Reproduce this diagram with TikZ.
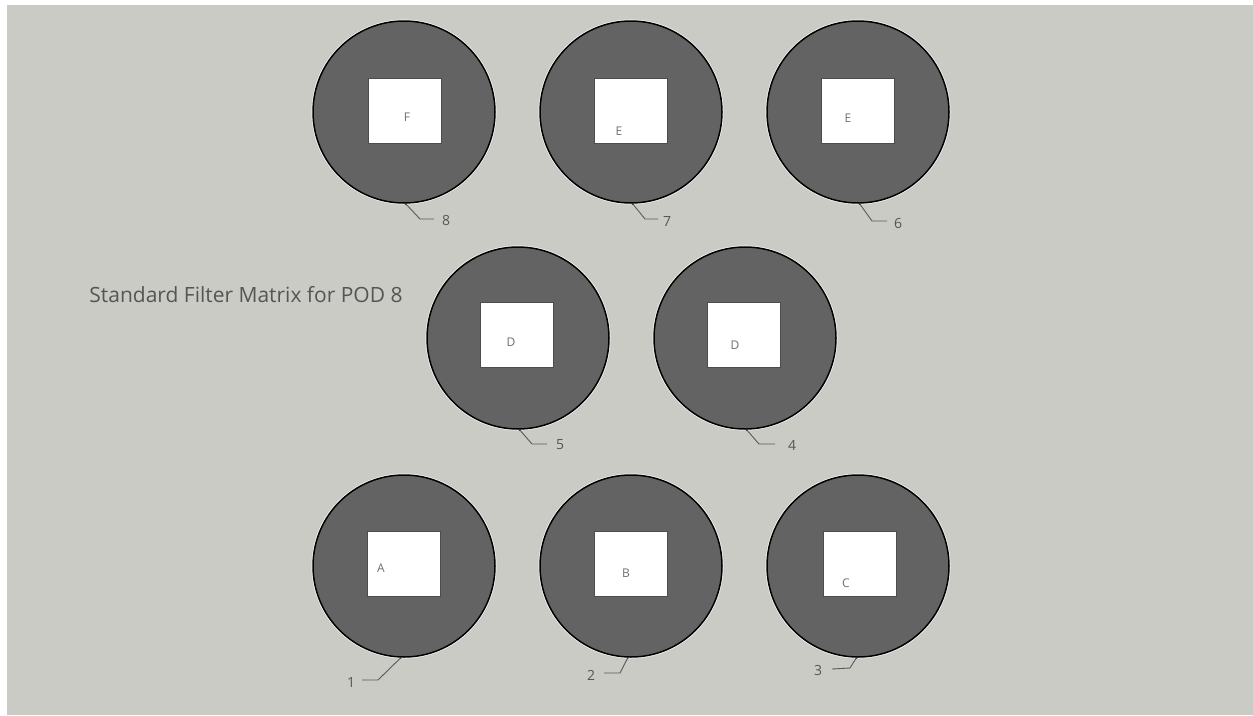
\documentclass[tikz,border=0pt]{standalone}
\usepackage{fontspec}
\setmainfont{Open Sans}
\definecolor{bg}{HTML}{CBCBC6}
\definecolor{disc}{HTML}{636363}
\definecolor{txt}{HTML}{555555}
\definecolor{ltr}{HTML}{707070}
\begin{document}
\begin{tikzpicture}[x=1pt,y=-1pt,
  filt/.style={circle,minimum size=182pt,inner sep=0pt,fill=disc,draw=black,line width=1.5pt,
    preaction={draw=white!85!bg,line width=3pt}},
  slot/.style={rectangle,minimum width=73pt,minimum height=65pt,inner sep=0pt,fill=white,draw=black!70,line width=0.8pt},
  ltrlbl/.style={inner sep=0pt,text=ltr,font=\fontsize{12}{12}\selectfont},
  numlbl/.style={inner sep=0pt,text=txt,font=\fontsize{14}{14}\selectfont},
  leader/.style={draw=black!65,line width=0.9pt}]
\useasboundingbox (0,0) rectangle (1253,715);
\fill[white] (0,0) rectangle (1253,715);
\fill[bg] (7,5) rectangle (1253,715);
% discs
\node[filt] (c8) at (404,112) {};
\node[filt] (c7) at (631,112) {};
\node[filt] (c6) at (858,112) {};
\node[filt] (c5) at (518,338) {};
\node[filt] (c4) at (745,338) {};
\node[filt] (c1) at (404,566) {};
\node[filt] (c2) at (631,566) {};
\node[filt] (c3) at (858,566) {};
% slots
\node[slot] (s8) at (404.5,111) {};
\node[slot] (s7) at (630.5,111) {};
\node[slot] (s6) at (858,111) {};
\node[slot] (s5) at (517,334.5) {};
\node[slot] (s4) at (743.5,334.5) {};
\node[slot] (s1) at (403.5,563.5) {};
\node[slot] (s2) at (631,563.5) {};
\node[slot] (s3) at (860,563.5) {};
% letters
\node[ltrlbl] (l8) at (407,117) {F};
\node[ltrlbl] (l7) at (619,131) {E};
\node[ltrlbl] (l6) at (848,118) {E};
\node[ltrlbl] (l5) at (511,342) {D};
\node[ltrlbl] (l4) at (735,345) {D};
\node[ltrlbl] (l1) at (381,568) {A};
\node[ltrlbl] (l2) at (626,573) {B};
\node[ltrlbl] (l3) at (846,583) {C};
% number labels
\node[numlbl] (n8) at (446,220) {8};
\node[numlbl] (n7) at (667,221) {7};
\node[numlbl] (n6) at (898,223) {6};
\node[numlbl] (n5) at (560,445) {5};
\node[numlbl] (n4) at (792,445) {4};
\node[numlbl] (n1) at (351,682) {1};
\node[numlbl] (n2) at (591,675) {2};
\node[numlbl] (n3) at (818,670) {3};
% leader bends
\coordinate (b8) at (420,219); \coordinate (e8) at (434,219);
\coordinate (b7) at (645,219); \coordinate (e7) at (658,219);
\coordinate (b6) at (872,221); \coordinate (e6) at (887,221);
\coordinate (b5) at (532,444); \coordinate (e5) at (547,444);
\coordinate (b4) at (759,444); \coordinate (e4) at (775,444);
\coordinate (b1) at (378,680); \coordinate (e1) at (362,680);
\coordinate (b2) at (620,673); \coordinate (e2) at (604,673);
\coordinate (b3) at (850,668); \coordinate (e3) at (832,669);
\foreach \i/\a in {8/-89,7/-89,6/-89,5/-89,4/-89,1/-92,2/-92,3/-91}{
  \path[leader] (c\i.\a) -- (b\i) -- (e\i);
  \fill[black!80] (c\i.\a) circle (1.2pt);
}
% title
\node[inner sep=0pt,text=txt,font=\fontsize{21}{21}\selectfont] (title) at (246,295) {Standard Filter Matrix for POD 8};
\end{tikzpicture}
\end{document}
